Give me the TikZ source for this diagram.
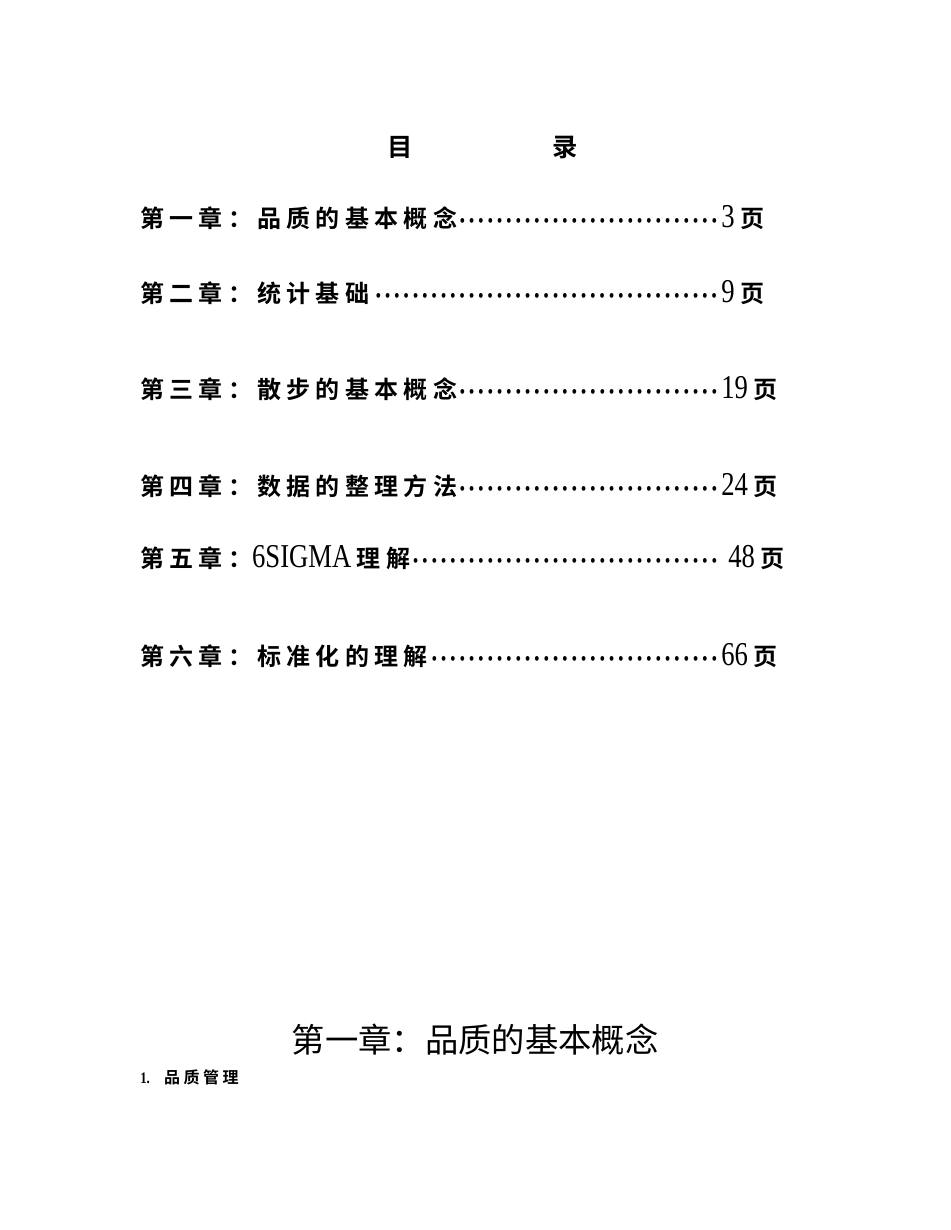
\documentclass[tikz,border=0pt]{standalone}
\usepackage{fontspec}
\newfontfamily\cjk{Noto Sans CJK SC}
\newfontfamily\cjkb{Noto Sans CJK SC Bold}[LetterSpace=22]
\newfontfamily\num{Liberation Serif}[FakeStretch=0.8]
\newcommand{\dotsleader}{\leaders\hbox{\kern1.4pt{\fontsize{15}{15}\selectfont\num •}\kern1.4pt}\hfill}
\newcommand{\tocline}[3]{%
  \node[anchor=base west,inner sep=0] (#1) at (140,#2) {\hbox to 580\unitlength{\cjkb\fontsize{18}{18}\selectfont #3\dotsleader}};}
\begin{document}
\begin{tikzpicture}[x=0.75pt,y=-0.75pt]
\setlength{\unitlength}{0.75pt}
\tikzset{pg/.style={anchor=base west,inner sep=0,font=\num\fontsize{25}{25}\selectfont}}
\fill[white] (0,0) rectangle (950,1230);
\node[font=\cjkb\fontsize{19}{19}\selectfont] (t1) at (400,147) {目};
\node[font=\cjkb\fontsize{19}{19}\selectfont] (t2) at (565,147) {录};
\tocline{c1}{228}{第一章：品质的基本概念}
\tocline{c2}{302}{第二章：统计基础}
\tocline{c3}{398}{第三章：散步的基本概念}
\tocline{c4}{495}{第四章：数据的整理方法}
\node[anchor=base west,inner sep=0] (c5) at (140,567) {\hbox to 580\unitlength{\cjkb\fontsize{18}{18}\selectfont 第五章：{\num\fontsize{25}{25}\selectfont 6SIGMA\,}理解\dotsleader}};
\tocline{c6}{665}{第六章：标准化的理解}
\node[pg] (p1) at (721,228) {3\,{\cjkb\fontsize{18}{18}\selectfont 页}};
\node[pg] (p2) at (721,302) {9\,{\cjkb\fontsize{18}{18}\selectfont 页}};
\node[pg] (p3) at (721,398) {19\,{\cjkb\fontsize{18}{18}\selectfont 页}};
\node[pg] (p4) at (721,495) {24\,{\cjkb\fontsize{18}{18}\selectfont 页}};
\node[pg] (p5) at (728,567) {48\,{\cjkb\fontsize{18}{18}\selectfont 页}};
\node[pg] (p6) at (721,665) {66\,{\cjkb\fontsize{18}{18}\selectfont 页}};
\node[font=\cjk\fontsize{25}{25}\selectfont] (h1) at (475,1040) {第一章：品质的基本概念};
\node[anchor=west,inner sep=0,font=\cjkb\fontsize{12}{12}\selectfont] (h2) at (140,1077) {{\num\bfseries 1.}\ \ 品质管理};
\end{tikzpicture}
\end{document}
